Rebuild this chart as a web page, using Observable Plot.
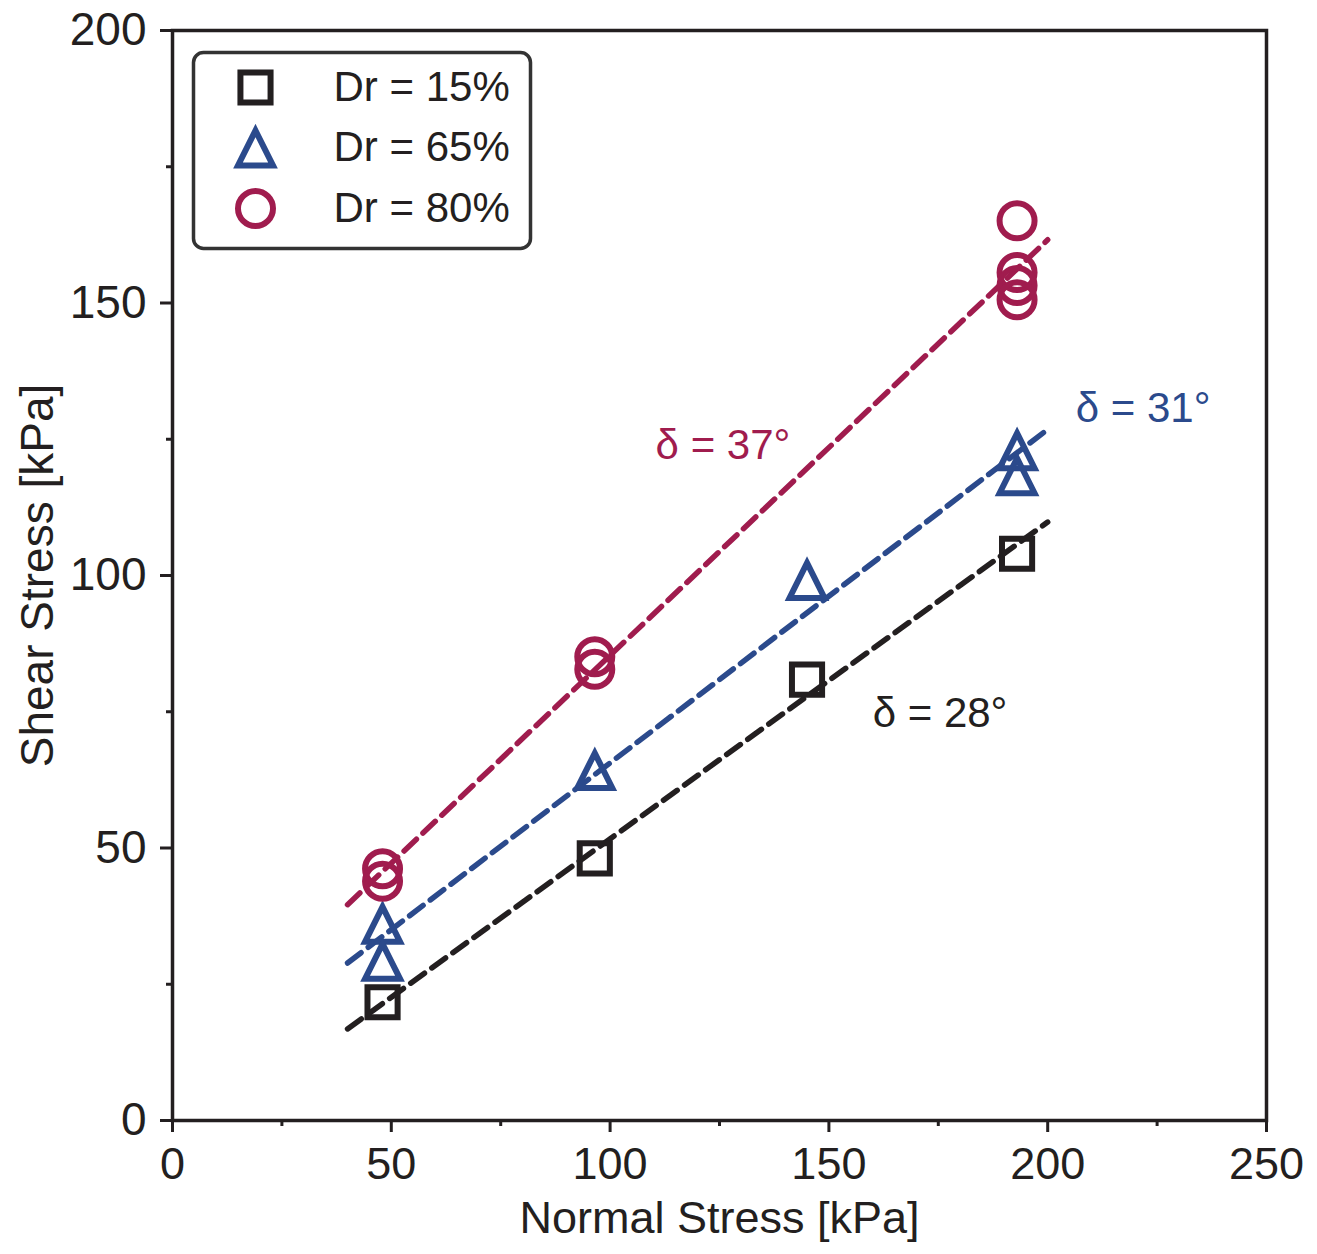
<!DOCTYPE html>
<html>
<head>
<meta charset="utf-8">
<script src="https://cdn.jsdelivr.net/npm/d3@7"></script>
<script src="https://cdn.jsdelivr.net/npm/@observablehq/plot@0.6"></script>
<style>
  body { margin: 0; background: #fff; }
  #graph svg { display: block; }
</style>
</head>
<body>
<div id="graph"></div>
<script>
const normal15 = [48, 96.5, 145, 193];
const shear15 = [21.7, 48.1, 80.9, 104.0];
const normal65 = [48, 48, 96.5, 145, 193, 193];
const shear65 = [36.0, 29.2, 64.2, 99.1, 122.9, 118.3];
const normal80 = [48, 48, 96.5, 96.5, 193, 193, 193, 193];
const shear80 = [46.2, 43.9, 85.1, 82.8, 165.1, 155.6, 153.2, 150.6];

// fitted failure envelopes
const fitX = [40, 200];
const fit15 = [16.8, 109.8];
const fit65 = [28.9, 126.8];
const fit80 = [39.6, 161.6];

const seriesNames = ["Dr = 15%", "Dr = 65%", "Dr = 80%"];
const angleLabels = ["δ = 28°", "δ = 31°", "δ = 37°"];
const angleX = [160, 206.4, 110.4];
const angleY = [74.7, 130.6, 123.9];

const xTicks = [0, 50, 100, 150, 200, 250];
const xMinor = [25, 75, 125, 175, 225];
const yTicks = [0, 50, 100, 150, 200];
const yMinor = [25, 75, 125, 175];

const ink = "#231f20";
const colors = ["#231f20", "#2b4a8c", "#a01c4e"];

// matplotlib-like "^" marker: as tall as it is wide, centred on its box
const triangleUp = {
	draw(context, size) {
		const h = Math.sqrt(size / Math.PI);
		context.moveTo(0, -h);
		context.lineTo(h, h);
		context.lineTo(-h, h);
		context.closePath();
	}
};
const symbols = ["square", triangleUp, "circle"];
const radii = [17, 17.5, 17.5];

const points = [
	normal15.map((x, i) => ({x, y: shear15[i]})),
	normal65.map((x, i) => ({x, y: shear65[i]})),
	normal80.map((x, i) => ({x, y: shear80[i]}))
];
const fits = [fit15, fit65, fit80].map(f => fitX.map((x, i) => ({x, y: f[i]})));

const marks = [];

// axes, major + minor ticks, outward
marks.push(
	Plot.axisX(xTicks, {tickSize: 12, tickPadding: 15, fontSize: 45, strokeWidth: 3, label: null, fill: ink, stroke: ink}),
	Plot.axisX(xMinor, {tickSize: 6, tickFormat: () => "", strokeWidth: 3, label: null, stroke: ink}),
	Plot.axisY(yTicks, {tickSize: 12, tickPadding: 14, fontSize: 46, strokeWidth: 3, label: null, fill: ink, stroke: ink}),
	Plot.axisY(yMinor, {tickSize: 6, tickFormat: () => "", strokeWidth: 3, label: null, stroke: ink})
);

// dashed fit lines
fits.forEach((f, k) => {
	marks.push(Plot.line(f, {x: "x", y: "y", stroke: colors[k], strokeWidth: 5.5, strokeDasharray: "17,9"}));
});

// data markers
points.forEach((p, k) => {
	marks.push(Plot.dot(p, {
		x: "x", y: "y", symbol: symbols[k], r: radii[k],
		fill: "none", stroke: colors[k], strokeWidth: 6
	}));
});

// angle annotations
angleLabels.forEach((t, k) => {
	marks.push(Plot.text([t], {
		x: () => angleX[k], y: () => angleY[k], text: d => d,
		fill: colors[k], fontSize: 42, textAnchor: "start", lineAnchor: "middle"
	}));
});

marks.push(Plot.frame({stroke: ink, strokeWidth: 3.5}));

// legend box inside the plot
marks.push(Plot.frame({insetLeft: 21, insetTop: 22, insetRight: 736, insetBottom: 872, rx: 10, fill: "white", stroke: "#333", strokeWidth: 3.5}));
seriesNames.forEach((name, k) => {
	const dy = 57 + k * 60.5;
	marks.push(Plot.dot([0], {
		x: null, y: null, frameAnchor: "top-left", dx: 83, dy,
		symbol: symbols[k], r: radii[k], fill: "none", stroke: colors[k], strokeWidth: 6
	}));
	marks.push(Plot.text([name], {
		x: null, y: null, frameAnchor: "top-left", dx: 161, dy, text: d => d,
		fill: ink, fontSize: 42, textAnchor: "start", lineAnchor: "middle"
	}));
});

// axis titles
marks.push(
	Plot.text(["Normal Stress [kPa]"], {x: null, y: null, frameAnchor: "bottom", dy: 98, text: d => d, fill: ink, fontSize: 45, textAnchor: "middle", lineAnchor: "middle"}),
	Plot.text(["Shear Stress [kPa]"], {x: null, y: null, frameAnchor: "left", dx: -134, rotate: -90, text: d => d, fill: ink, fontSize: 46, textAnchor: "middle", lineAnchor: "middle"})
);

const chart = Plot.plot({
	width: 1317,
	height: 1254,
	marginLeft: 172,
	marginRight: 51,
	marginTop: 30,
	marginBottom: 134,
	style: {fontFamily: "'Liberation Sans', Arial, sans-serif", background: "white", color: ink},
	x: {domain: [0, 250]},
	y: {domain: [0, 200]},
	marks
});

d3.select("#graph").append(() => chart);
</script>
</body>
</html>
